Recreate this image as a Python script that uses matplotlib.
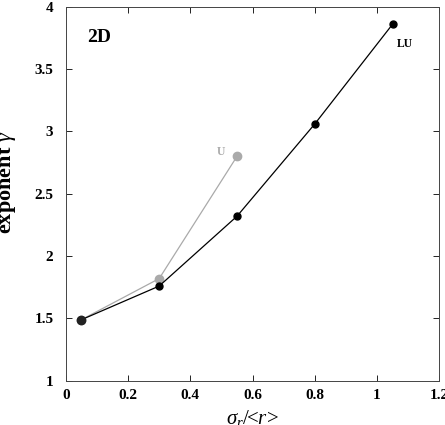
import numpy as np
import matplotlib.pyplot as plt

plt.rcParams['font.family'] = ['Liberation Serif', 'DejaVu Serif']
plt.rcParams['mathtext.fontset'] = 'custom'
plt.rcParams['mathtext.rm'] = 'Liberation Serif'
plt.rcParams['mathtext.it'] = 'Liberation Serif:italic'

# data
lu_x = [0.05, 0.3, 0.55, 0.8, 1.05]
lu_y = [1.49, 1.76, 2.32, 3.06, 3.86]
u_x = [0.05, 0.3, 0.55]
u_y = [1.49, 1.82, 2.80]
xticks = [0, 0.2, 0.4, 0.6, 0.8, 1, 1.2]
xtick_labels = ['0', '0.2', '0.4', '0.6', '0.8', '1', '1.2']
yticks = [1, 1.5, 2, 2.5, 3, 3.5, 4]
ytick_labels = ['1', '1.5', '2', '2.5', '3', '3.5', '4']

fig = plt.figure(figsize=(4.45, 4.25), dpi=100)
ax = fig.add_axes([0.148, 0.104, 0.839, 0.88])

ax.plot(u_x, u_y, color='#aaaaaa', lw=0.9, marker='o', ms=6, zorder=2)
ax.plot(lu_x, lu_y, color='black', lw=0.9, marker='o', ms=5, zorder=3)
ax.plot(lu_x[0], lu_y[0], 'o', color='#222222', ms=6, zorder=4)

ax.set_xlim(0, 1.2)
ax.set_ylim(1, 4)
ax.set_xticks(xticks)
ax.set_xticklabels(xtick_labels, fontweight='bold', fontsize=11)
ax.set_yticks(yticks)
ax.set_yticklabels(ytick_labels, fontweight='bold', fontsize=11)
ax.tick_params(direction='in', top=True, right=True, length=4, width=0.6)
ax.tick_params(axis='y', pad=9)
ax.tick_params(axis='x', pad=6)
for s in ax.spines.values():
    s.set_linewidth(0.7)
    s.set_color('#444444')

ax.text(0.067, 3.72, '2D', fontsize=14, fontweight='bold')
ax.text(1.065, 3.68, 'LU', fontsize=8.5, fontweight='bold')
ax.text(0.485, 2.81, 'U', fontsize=8.5, fontweight='bold', color='#aaaaaa')

ax.set_ylabel(r'exponent $\gamma$', fontsize=16, fontweight='bold')
ax.yaxis.set_label_coords(-0.128, 0.53)
ax.set_xlabel(r'$\sigma_r$/<$r$>', fontsize=15)
ax.xaxis.set_label_coords(0.5, -0.072)

fig.savefig('out.png', dpi=100)
